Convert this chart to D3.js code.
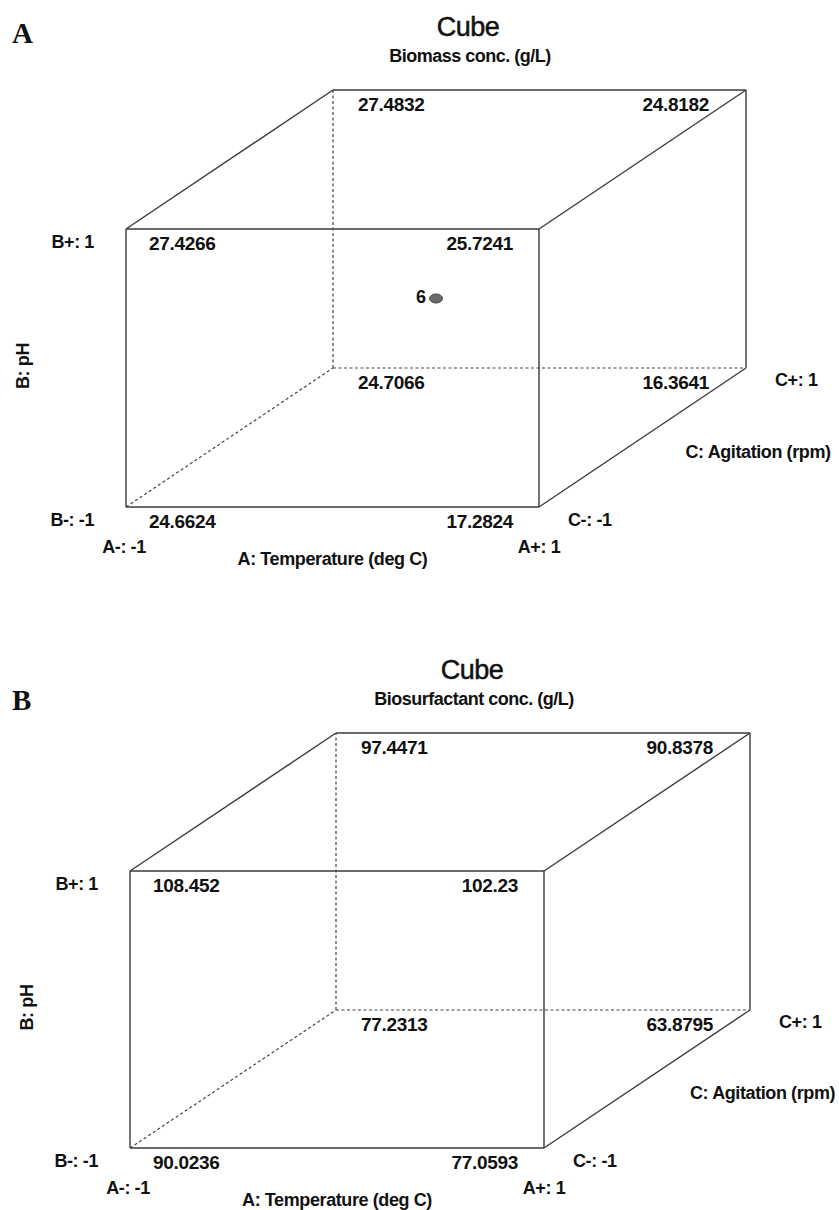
<!DOCTYPE html>
<html>
<head>
<meta charset="utf-8">
<script src="https://cdn.jsdelivr.net/npm/d3@7"></script>
<style>
  html, body { margin: 0; padding: 0; background: #fff; }
  svg { display: block; }
  text { font-family: Arial, "Liberation Sans", sans-serif; fill: #111; }
</style>
</head>
<body>
<svg id="chart" width="839" height="1210"></svg>
<script>
// ---- data ----
// corner order: [A, B, C] coded levels
const cornerLevels = [
  [-1, -1, -1], [1, -1, -1], [-1, 1, -1], [1, 1, -1],
  [-1, -1, 1], [1, -1, 1], [-1, 1, 1], [1, 1, 1]
];
const biomassValues = ["24.6624", "17.2824", "27.4266", "25.7241",
                       "24.7066", "16.3641", "27.4832", "24.8182"];
const biosurfactantValues = ["90.0236", "77.0593", "108.452", "102.23",
                             "77.2313", "63.8795", "97.4471", "90.8378"];
const panelLetters = ["A", "B"];
const panelTitles = ["Cube", "Cube"];
const panelSubtitles = ["Biomass conc. (g/L)", "Biosurfactant conc. (g/L)"];
const centerPointCounts = [6, 0];
const factorA = { name: "A: Temperature (deg C)", low: "A-: -1", high: "A+: 1" };
const factorB = { name: "B: pH", low: "B-: -1", high: "B+: 1" };
const factorC = { name: "C: Agitation (rpm)", low: "C-: -1", high: "C+: 1" };

// ---- drawing ----
const svg = d3.select("#chart");

function drawPanel(p) {
  const g = svg.append("g");
  const xA = d3.scaleLinear().domain([-1, 1]).range(p.xRange);
  const yB = d3.scaleLinear().domain([-1, 1]).range(p.yRange);
  const dxC = d3.scaleLinear().domain([-1, 1]).range([0, p.depth[0]]);
  const dyC = d3.scaleLinear().domain([-1, 1]).range([0, p.depth[1]]);
  const proj = (a, b, c) => [xA(a) + dxC(c), yB(b) + dyC(c)];

  // edges: pairs of corners; hidden edges touch (-1,-1,1)
  const edges = [];
  for (let i = 0; i < 8; i++) for (let j = i + 1; j < 8; j++) {
    const ci = cornerLevels[i], cj = cornerLevels[j];
    const diff = ci.reduce((s, v, k) => s + (v !== cj[k] ? 1 : 0), 0);
    if (diff === 1) {
      const hidden = [ci, cj].some(c => c[0] === -1 && c[1] === -1 && c[2] === 1);
      edges.push({ a: ci, b: cj, hidden });
    }
  }
  g.selectAll("line.edge").data(edges).enter().append("line")
    .attr("class", "edge")
    .attr("x1", d => proj(...d.a)[0]).attr("y1", d => proj(...d.a)[1])
    .attr("x2", d => proj(...d.b)[0]).attr("y2", d => proj(...d.b)[1])
    .attr("stroke", d => d.hidden ? "#444" : "#3a3a3a")
    .attr("stroke-width", d => d.hidden ? 1.2 : 1.4)
    .attr("stroke-dasharray", d => d.hidden ? "3,2.5" : null);

  // corner values
  const vals = cornerLevels.map((c, i) => ({ c, v: p.values[i] }));
  g.selectAll("text.val").data(vals).enter().append("text")
    .attr("class", "val")
    .attr("x", d => {
      const [x] = proj(...d.c);
      if (d.c[0] === -1) return x + (d.c[2] === -1 ? 23 : 25);
      return x - (d.c[2] === -1 ? 26 : 37);
    })
    .attr("y", d => proj(...d.c)[1] + 14)
    .attr("dy", "0.36em")
    .attr("text-anchor", d => d.c[0] === -1 ? "start" : "end")
    .style("font-size", "19px").style("font-weight", "bold")
    .style("letter-spacing", "-0.3px")
    .text(d => d.v);

  const lab = (x, y, txt, anchor, extra) => {
    const t = g.append("text").attr("x", x).attr("y", y).attr("dy", "0.36em")
      .attr("text-anchor", anchor || "start")
      .style("font-size", "18px").style("font-weight", "bold")
      .style("letter-spacing", "-0.4px").text(txt);
    if (extra) extra(t);
    return t;
  };

  const [fl] = proj(-1, -1, -1);
  // B axis labels
  lab(fl - 32, yB(1) + 13, factorB.high, "end");
  lab(fl - 32, yB(-1) + 13, factorB.low, "end");
  // A axis labels
  lab(xA(-1) - 2, yB(-1) + 40, factorA.low, "middle");
  lab(xA(1), yB(-1) + 40, factorA.high, "middle");
  lab((xA(-1) + xA(1)) / 2, yB(-1) + 52, factorA.name, "middle");
  // C axis labels
  lab(xA(1) + 29, yB(-1) + 13, factorC.low, "start");
  const [cbx, cby] = proj(1, -1, 1);
  lab(cbx + 29, cby + 12, factorC.high, "start");
  const mx = (xA(1) + cbx) / 2, my = (yB(-1) + cby) / 2;
  lab(mx + 43, my + 14, factorC.name, "start");
  // B axis name (rotated)
  lab(0, 0, factorB.name, "middle", t =>
    t.attr("transform", `translate(${p.bNameX},${(yB(-1) + yB(1)) / 2 - 2}) rotate(-90)`));

  // titles
  const [, backTop] = proj(-1, 1, 1);
  g.append("text").attr("x", fl + 342).attr("y", backTop - 64).attr("dy", "0.36em")
    .attr("text-anchor", "middle").style("font-size", "27px")
    .style("stroke", "#111").style("stroke-width", "0.5px")
    .style("letter-spacing", "-0.5px").text(p.title);
  g.append("text").attr("x", fl + 344).attr("y", backTop - 34).attr("dy", "0.36em")
    .attr("text-anchor", "middle").style("font-size", "18px").style("font-weight", "bold")
    .style("letter-spacing", "-0.5px").text(p.subtitle);

  // panel letter
  g.append("text").attr("x", 12).attr("y", p.letterY).attr("dy", "0.36em")
    .style("font-family", "'Liberation Serif', 'Times New Roman', serif")
    .style("font-size", "29px").style("font-weight", "bold").text(p.letter);

  // centre point
  if (p.centerCount > 0) {
    const [cx, cy] = proj(0, 0, 0);
    g.append("ellipse").attr("cx", cx).attr("cy", cy).attr("rx", 6.5).attr("ry", 4.5)
      .attr("fill", "#6a6a6a").attr("stroke", "#444").attr("stroke-width", 1);
    g.append("text").attr("x", cx - 10).attr("y", cy - 2).attr("dy", "0.36em")
      .attr("text-anchor", "end").style("font-size", "18px").style("font-weight", "bold")
      .text(p.centerCount);
  }
}

drawPanel({
  xRange: [126, 539], yRange: [507, 229], depth: [207, -139],
  values: biomassValues, title: panelTitles[0], subtitle: panelSubtitles[0],
  letter: panelLetters[0], letterY: 33, centerCount: centerPointCounts[0], bNameX: 23
});
drawPanel({
  xRange: [130, 544], yRange: [1148, 871], depth: [206, -138],
  values: biosurfactantValues, title: panelTitles[1], subtitle: panelSubtitles[1],
  letter: panelLetters[1], letterY: 700, centerCount: centerPointCounts[1], bNameX: 27
});
</script>
</body>
</html>
